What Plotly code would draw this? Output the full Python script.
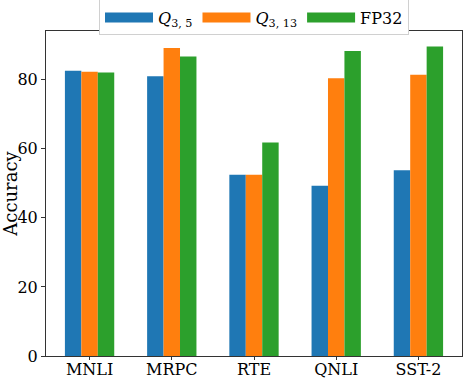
import plotly.graph_objects as go

tasks = ["MNLI", "MRPC", "RTE", "QNLI", "SST-2"]
q35 = [82.6, 81.0, 52.5, 49.3, 53.8]
q313 = [82.3, 89.2, 52.5, 80.4, 81.4]
fp32 = [82.1, 86.7, 61.8, 88.3, 89.6]

series = [
    ("<i>Q</i><sub>3, 5</sub>", q35, "#1f77b4"),
    ("<i>Q</i><sub>3, 13</sub>", q313, "#ff7f0e"),
    ("FP32", fp32, "#2ca02c"),
]

font = "DejaVu Serif, serif"

fig = go.Figure()
for name, vals, color in series:
    fig.add_trace(go.Bar(x=tasks, y=vals, name=name, marker_color=color,
                         marker_line_width=0, showlegend=False))
    # wide patch for the legend
    fig.add_trace(go.Scatter(x=[None], y=[None], mode="lines", name=name,
                             line=dict(color=color, width=11)))

fig.update_layout(
    width=463, height=378,
    margin=dict(l=46, r=1, t=31, b=22, autoexpand=False),
    plot_bgcolor="white", paper_bgcolor="white",
    barmode="group", bargap=0.4, bargroupgap=0,
    font=dict(family=font, size=16, color="black"),
    legend=dict(orientation="h", x=0.5, xanchor="center", y=1.097, yanchor="top",
                bordercolor="#d0d0d0", borderwidth=1, bgcolor="white",
                font=dict(size=16), itemwidth=48, tracegroupgap=0),
)
fig.update_xaxes(range=[-0.53, 4.53], showline=True, linecolor="#333", linewidth=1,
                 mirror=True, ticks="outside", ticklen=3, tickcolor="#333",
                 tickfont=dict(size=16), automargin=False, ticklabelstandoff=-4)
fig.update_yaxes(range=[0, 94.1], showline=True, linecolor="#333", linewidth=1,
                 mirror=True, ticks="outside", ticklen=4, tickcolor="#333",
                 showgrid=False, zeroline=False, dtick=20, automargin=False,
                 title=dict(text="Accuracy", font=dict(size=18), standoff=2),
                 tickfont=dict(size=16))

# page body margin would shift the figure
fig.write_html("out.html", config={"displayModeBar": False},
               post_script="document.body.style.margin='0';")
